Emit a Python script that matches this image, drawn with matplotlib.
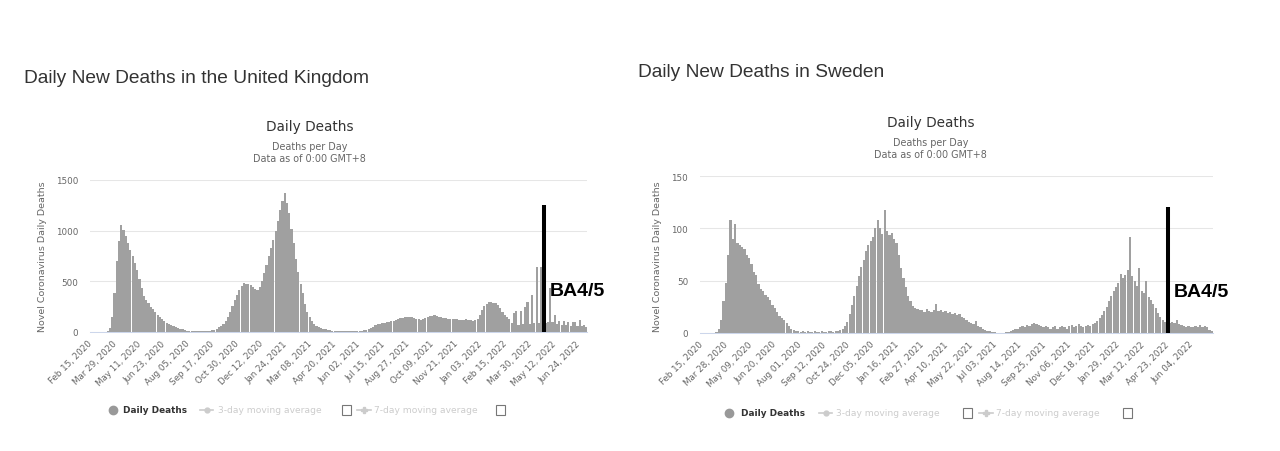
import matplotlib
matplotlib.use('Agg')
import numpy as np
import pandas as pd
import matplotlib.pyplot as plt
from matplotlib.lines import Line2D
from matplotlib.patches import Rectangle

# daily deaths, one value per 4-day block from Feb 15, 2020
uk_deaths = [
    0, 0, 0, 0, 0, 0, 2, 8, 40, 150,
    380, 700, 900, 1060, 1010, 950, 880, 810, 750, 680,
    610, 520, 430, 360, 320, 285, 250, 225, 195, 170,
    148, 128, 108, 92, 78, 66, 58, 50, 42, 34,
    26, 18, 14, 12, 11, 10, 9, 9, 8, 8,
    9, 10, 12, 15, 20, 30, 45, 60, 80, 105,
    145, 200, 260, 320, 370, 410, 450, 480, 475, 470,
    465, 445, 420, 415, 440, 500, 580, 660, 750, 830,
    910, 1000, 1100, 1200, 1290, 1370, 1270, 1170, 1020, 880,
    720, 590, 470, 380, 280, 200, 145, 105, 80, 62,
    50, 40, 32, 25, 20, 16, 14, 13, 12, 11,
    10, 10, 9, 9, 8, 8, 9, 9, 10, 12,
    15, 20, 27, 38, 52, 65, 75, 82, 88, 92,
    98, 103, 108, 112, 120, 128, 135, 143, 148, 152,
    150, 145, 135, 130, 127, 122, 125, 135, 145, 155,
    162, 163, 158, 152, 145, 140, 137, 132, 130, 133,
    132, 127, 122, 120, 123, 128, 122, 117, 112, 114,
    125, 165, 215, 255, 280, 292, 296, 290, 282, 265,
    240, 200, 165, 145, 125, 85, 190, 204, 70, 204,
    75, 243, 293, 80, 365, 85, 645, 90, 645, 95,
    90, 100, 431, 95, 168, 80, 112, 70, 112, 65,
    96, 60, 95, 96, 60, 118, 55, 73, 50,
]

se_deaths = [
    0, 0, 0, 0, 0, 0, 1, 4, 12, 30,
    48, 75, 108, 90, 104, 86, 84, 82, 80, 75,
    72, 66, 58, 55, 47, 42, 40, 36, 34, 31,
    27, 24, 20, 16, 14, 12, 9, 6, 4, 3,
    2, 2, 1, 2, 1, 2, 1, 1, 2, 1,
    1, 2, 1, 1, 2, 2, 1, 2, 2, 3,
    4, 6, 10, 18, 27, 35, 45, 54, 63, 70,
    78, 84, 88, 92, 100, 108, 100, 95, 118, 98,
    94, 96, 90, 86, 75, 62, 52, 44, 35, 30,
    26, 24, 23, 22, 22, 20, 23, 21, 20, 22,
    28, 21, 22, 20, 21, 19, 20, 18, 19, 17,
    18, 15, 14, 12, 10, 9, 8, 11, 6, 5,
    4, 3, 2, 2, 1, 1, 0, 0, 0, 0,
    1, 1, 2, 3, 4, 4, 5, 6, 5, 7,
    6, 8, 9, 8, 7, 6, 5, 6, 5, 4,
    5, 6, 4, 5, 6, 5, 4, 6, 7, 5,
    6, 8, 6, 5, 6, 7, 6, 8, 9, 11,
    14, 17, 21, 25, 30, 35, 40, 44, 48, 56,
    52, 55, 60, 92, 54, 50, 45, 62, 40, 38,
    50, 34, 31, 28, 24, 19, 15, 12, 10, 8,
    9, 10, 9, 12, 8, 7, 6, 5, 6, 5,
    5, 6, 5, 7, 5, 6, 5, 3, 2,
]

uk_ticks = ['Feb 15, 2020', 'Mar 29, 2020', 'May 11, 2020', 'Jun 23, 2020', 'Aug 05, 2020',
            'Sep 17, 2020', 'Oct 30, 2020', 'Dec 12, 2020', 'Jan 24, 2021', 'Mar 08, 2021',
            'Apr 20, 2021', 'Jun 02, 2021', 'Jul 15, 2021', 'Aug 27, 2021', 'Oct 09, 2021',
            'Nov 21, 2021', 'Jan 03, 2022', 'Feb 15, 2022', 'Mar 30, 2022', 'May 12, 2022',
            'Jun 24, 2022']
se_ticks = ['Feb 15, 2020', 'Mar 28, 2020', 'May 09, 2020', 'Jun 20, 2020', 'Aug 01, 2020',
            'Sep 12, 2020', 'Oct 24, 2020', 'Dec 05, 2020', 'Jan 16, 2021', 'Feb 27, 2021',
            'Apr 10, 2021', 'May 22, 2021', 'Jul 03, 2021', 'Aug 14, 2021', 'Sep 25, 2021',
            'Nov 06, 2021', 'Dec 18, 2021', 'Jan 29, 2022', 'Mar 12, 2022', 'Apr 23, 2022',
            'Jun 04, 2022']
uk_yticks = [0, 500, 1000, 1500]
se_yticks = [0, 50, 100, 150]

start = pd.Timestamp('2020-02-15')
ba45_date = pd.Timestamp('2022-04-23')

W, H = 1280, 452
GREY = '#666666'
DARK = '#333333'


def fx(px):
    return px / W


def fy(py):
    return 1 - py / H


fig = plt.figure(figsize=(12.8, 4.52), dpi=100)


def panel(rect, deaths, ticks, yticks, xlim_days, line_top, text_y):
    ax = fig.add_axes(rect)
    left_edges = start + pd.to_timedelta(4 * np.arange(len(deaths)) - 0.5, unit='D')
    ax.bar(left_edges, deaths, width=3.8, align='edge', color='#a0a0a0', linewidth=0, zorder=2)
    ax.set_xlim(start + pd.Timedelta(days=xlim_days[0]), start + pd.Timedelta(days=xlim_days[1]))
    ax.set_ylim(yticks[0], yticks[-1])
    ax.set_yticks(yticks)
    ax.set_yticklabels([str(v) for v in yticks])
    ax.set_xticks(pd.to_datetime(ticks, format='%b %d, %Y'))
    ax.set_xticklabels(ticks, rotation=45, ha='right', va='center',
                       rotation_mode='anchor', fontsize=6.3, color=GREY)
    ax.tick_params(axis='x', length=0, pad=7)
    ax.tick_params(axis='y', length=0, pad=8.5, labelsize=6.3, labelcolor=GREY)
    ax.yaxis.grid(True, color='#e6e6e6', linewidth=0.75)
    ax.set_axisbelow(True)
    for s in ['top', 'left', 'right']:
        ax.spines[s].set_visible(False)
    ax.spines['bottom'].set_color('#ccd6eb')
    ax.spines['bottom'].set_linewidth(0.75)
    ax.spines['bottom'].set_zorder(3)
    # hand-drawn BA4/5 marker from the screenshot
    ax.vlines(ba45_date, 0, line_top, color='black', linewidth=2.9, zorder=5, clip_on=False)
    ax.annotate('BA4/5', xy=(ba45_date, text_y), xytext=(4.5, 0), textcoords='offset points',
                ha='left', va='baseline', fontsize=14, fontweight='bold',
                family='Liberation Sans', color='black')
    return ax


panel([fx(90), fy(333), 497 / W, 152 / H], uk_deaths, uk_ticks, uk_yticks,
      (-1.76, 874.2), 1257, 365)
panel([fx(700), fy(333.7), 513 / W, 156.4 / H], se_deaths, se_ticks, se_yticks,
      (-2.9, 875.5), 121, 35)

# page titles
fig.text(fx(24), fy(83.3), 'Daily New Deaths in the United Kingdom', fontsize=13.8,
         family='Liberation Sans', color=DARK, va='baseline')
fig.text(fx(638), fy(76.7), 'Daily New Deaths in Sweden', fontsize=13.8,
         family='Liberation Sans', color=DARK, va='baseline')

# chart titles and subtitles
for cx, base in [(309.5, 131), (930.5, 126.7)]:
    fig.text(fx(cx), fy(base), 'Daily Deaths', fontsize=9.8, color=DARK,
             ha='center', va='baseline')
    fig.text(fx(cx), fy(base + 19.5), 'Deaths per Day', fontsize=6.9, color=GREY,
             ha='center', va='baseline')
    fig.text(fx(cx), fy(base + 31.5), 'Data as of 0:00 GMT+8', fontsize=6.9, color=GREY,
             ha='center', va='baseline')

# y axis titles
for cx in [42.5, 657.5]:
    fig.text(fx(cx), fy(257), 'Novel Coronavirus Daily Deaths', fontsize=6.8, color=GREY,
             rotation=90, ha='center', va='center')

# legends
legends = [
    dict(y=411, dot=113, t1=123, m3=(200, 213), t3=218, box1=346, m7=(357, 371), t7=374, box2=500),
    dict(y=414, dot=729, t1=741, m3=(819, 832), t3=836, box1=967, m7=(979, 993), t7=996, box2=1127),
]
for lg in legends:
    y = fy(lg['y'])
    fig.add_artist(Line2D([fx(lg['dot'])], [y], marker='o', markersize=6, color='#999999',
                          linestyle='none', transform=fig.transFigure))
    fig.text(fx(lg['t1']), y, 'Daily Deaths', fontsize=6.4, fontweight='bold', color=DARK,
             va='center')
    a, b = lg['m3']
    fig.add_artist(Line2D([fx(a), fx(b)], [y, y], color='#cccccc', linewidth=1.2,
                          transform=fig.transFigure))
    fig.add_artist(Line2D([fx((a + b) / 2)], [y], marker='o', markersize=3.5, color='#cccccc',
                          transform=fig.transFigure))
    fig.text(fx(lg['t3']), y, '3-day moving average', fontsize=6.6, color='#cccccc', va='center')
    a, b = lg['m7']
    fig.add_artist(Line2D([fx(a), fx(b)], [y, y], color='#cccccc', linewidth=1.2,
                          transform=fig.transFigure))
    fig.add_artist(Line2D([fx((a + b) / 2)], [y], marker='P', markersize=4, color='#cccccc',
                          transform=fig.transFigure))
    fig.text(fx(lg['t7']), y, '7-day moving average', fontsize=6.6, color='#cccccc', va='center')
    for bx in [lg['box1'], lg['box2']]:
        fig.add_artist(Rectangle((fx(bx - 4.5), fy(lg['y'] + 5)), 9 / W, 10 / H,
                                 facecolor='white', edgecolor='#777777', linewidth=0.8,
                                 transform=fig.transFigure))

fig.savefig('out.png', dpi=100)
